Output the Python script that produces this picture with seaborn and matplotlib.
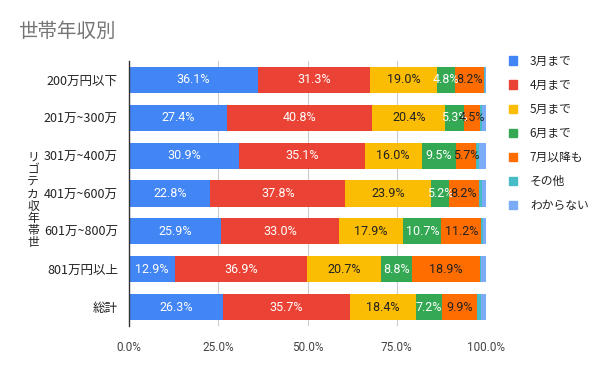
import numpy as np
import pandas as pd
import matplotlib
matplotlib.use("Agg")
import matplotlib.pyplot as plt
import matplotlib.patches as mpatches
import seaborn as sns

# data (percent)
categories = ["200万円以下", "201万~300万", "301万~400万", "401万~600万",
              "601万~800万", "801万円以上", "総計"]
series = ["3月まで", "4月まで", "5月まで", "6月まで", "7月以降も", "その他", "わからない"]
mar = [36.1, 27.4, 30.9, 22.8, 25.9, 12.9, 26.3]
apr = [31.3, 40.8, 35.1, 37.8, 33.0, 36.9, 35.7]
may = [19.0, 20.4, 16.0, 23.9, 17.9, 20.7, 18.4]
jun = [4.8, 5.3, 9.5, 5.2, 10.7, 8.8, 7.2]
jul_later = [8.2, 4.5, 5.7, 8.2, 11.2, 18.9, 9.9]
other = [0.2, 0.6, 0.8, 0.9, 0.4, 0.5, 1.0]
unknown = [0.4, 1.0, 2.0, 1.2, 0.9, 1.3, 1.5]

colors = ["#4285F4", "#EA4335", "#FBBC04", "#34A853", "#FF6D01", "#46BDC6", "#7BAAF7"]
label_colors = ["white", "white", "#222222", "white", "#222222", None, None]

sns.set_style("white")
plt.rcParams["font.family"] = ["Noto Sans CJK JP", "DejaVu Sans"]

df = pd.DataFrame({"cat": categories})
vals = [mar, apr, may, jun, jul_later, other, unknown]
for name, v in zip(series, vals):
    df[name] = v
cum = df[series].cumsum(axis=1)

fig = plt.figure(figsize=(6, 3.71), dpi=100)
ax = fig.add_axes([129 / 600, 1 - 326 / 371, (486 - 129) / 600, (326 - 61) / 371])

# draw cumulative layers from the outermost inwards so they stack visually
for name, col in reversed(list(zip(series, colors))):
    sns.barplot(data=cum.assign(cat=categories), x=name, y="cat", color=col,
                orient="h", width=0.69, linewidth=0, saturation=1, ax=ax, zorder=2)

for j, name in enumerate(series):
    if label_colors[j] is None:
        continue
    for i, v in enumerate(df[name]):
        x = cum[name][i] - v / 2
        ax.text(x, i, f"{v:.1f}%", ha="center", va="center", fontsize=9,
                color=label_colors[j], family=["Roboto", "DejaVu Sans"], zorder=3)

ax.set_xlim(0, 100)
ax.set_xticks([0, 25, 50, 75, 100])
ax.set_xticklabels(["0.0%", "25.0%", "50.0%", "75.0%", "100.0%"],
                   family=["Roboto", "DejaVu Sans"], fontsize=8.5, color="#444444")
ax.tick_params(axis="y", labelsize=9, colors="#222222", length=0, pad=8)
ax.tick_params(axis="x", length=0, pad=11)
ax.grid(axis="x", color="#cccccc", linewidth=0.8, zorder=0)
ax.set_axisbelow(True)
ax.set_xlabel("")
ax.set_ylabel("")
for s in ["top", "right", "bottom"]:
    ax.spines[s].set_visible(False)
ax.spines["left"].set_color("#333333")
ax.spines["left"].set_linewidth(1)
ax.spines["left"].set_zorder(4)

# vertical y-axis title, characters kept upright as in the reference
ytitle = "世帯年収カテゴリ"
fig.text(33 / 600, 1 - 200 / 371, "\n".join(reversed(ytitle)), ha="center", va="center",
         fontsize=8.5, color="#222222", linespacing=0.92)

fig.text(18 / 600, 1 - 31 / 371, "世帯年収別", ha="left", va="center",
         fontsize=14, color="#757575")

handles = [mpatches.Patch(color=c, label=s) for s, c in zip(series, colors)]
fig.legend(handles=handles, loc="upper left", bbox_to_anchor=(498 / 600, 1 - 44 / 371),
           frameon=False, fontsize=8.5, labelspacing=0.94, handlelength=0.7,
           handleheight=0.7, handletextpad=1.1, labelcolor="#222222")

fig.savefig("out.png", dpi=100)
